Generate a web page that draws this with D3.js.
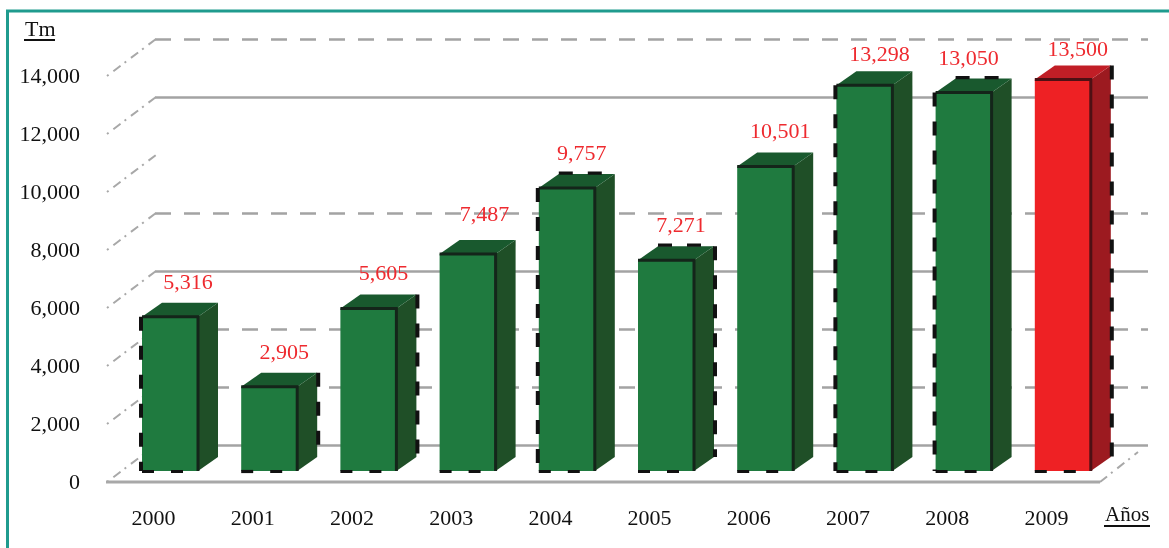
<!DOCTYPE html>
<html>
<head>
<meta charset="utf-8">
<script src="https://d3js.org/d3.v7.min.js"></script>
<style>
    html, body { margin: 0; padding: 0; background: #fff; }
    svg { display: block; filter: blur(0.45px); }
    text { font-family: "Liberation Serif", serif; font-size: 22px; }
</style>
</head>
<body>
<div id="chart"></div>
<script>
const years = ["2000", "2001", "2002", "2003", "2004", "2005", "2006", "2007", "2008", "2009"];
const values = [5316, 2905, 5605, 7487, 9757, 7271, 10501, 13298, 13050, 13500];
const yTicks = [0, 2000, 4000, 6000, 8000, 10000, 12000, 14000];

// which wall lines are solid, dashed or missing in the original
const solidGrid = [0, 6000, 12000];
const dashedGrid = [2000, 4000, 8000, 14000];

const highlightYear = "2009";

// the source image has these edges broken up in dashes
const leftDashed = ["2000", "2004", "2007", "2008"];
const rightDashed = ["2001", "2002", "2005", "2009"];
const topDashed = ["2004", "2005", "2008"];

// hand placed labels in the original
const labelNudge = {"2003": [2, -5], "2007": [0, 4], "2008": [-10, 0], "2009": [0, 4], "2000": [3, 0]};

const width = 1169, height = 548;
const depthX = 20, depthY = 14;
const barOffset = 38, barWidth = 56;

const svg = d3.select("#chart")
    .append("svg")
    .attr("width", width)
    .attr("height", height);

const x = d3.scaleBand()
    .domain(years)
    .range([104, 1096]);

// front of the chart box, the wall is the same scale pushed back
const yFront = d3.scaleLinear()
    .domain([0, 14000])
    .range([482, 76]);

const yBar = d3.scaleLinear()
    .domain([0, 14000])
    .range([471, 65]);

const wallX = 49, wallY = -37;

// teal frame
svg.append("path")
    .attr("d", `M7.5,${height} V11 H${width}`)
    .style("fill", "none")
    .style("stroke", "#1f9b8e")
    .style("stroke-width", 3);

// wall lines
svg.selectAll(".grid")
    .data(solidGrid.concat(dashedGrid))
    .enter()
    .append("line")
    .attr("class", "grid")
    .attr("x1", 106 + wallX)
    .attr("x2", 1099 + wallX)
    .attr("y1", d => yFront(d) + wallY + 0.5)
    .attr("y2", d => yFront(d) + wallY + 0.5)
    .style("stroke", "#a3a3a3")
    .style("stroke-width", 2.4)
    .style("stroke-dasharray", d => dashedGrid.includes(d) ? "16 13" : null);

// slanted bits on the left side
svg.selectAll(".slant")
    .data(yTicks)
    .enter()
    .append("line")
    .attr("class", "slant")
    .attr("x1", 107)
    .attr("x2", 107 + wallX)
    .attr("y1", d => yFront(d))
    .attr("y2", d => yFront(d) + wallY)
    .style("stroke", "#a8a8a8")
    .style("stroke-width", 2)
    .style("stroke-dasharray", "2 6 9 5");

// floor
svg.append("line")
    .attr("x1", 106)
    .attr("x2", 1100)
    .attr("y1", yFront(0))
    .attr("y2", yFront(0))
    .style("stroke", "#a8a8a8")
    .style("stroke-width", 3);

svg.append("line")
    .attr("x1", 1100)
    .attr("x2", 1138)
    .attr("y1", yFront(0))
    .attr("y2", yFront(0) - 30)
    .style("stroke", "#a8a8a8")
    .style("stroke-width", 2)
    .style("stroke-dasharray", "9 5 2 6");

const bars = svg.selectAll(".bar")
    .data(years.map((year, i) => ({year: year, value: values[i]})))
    .enter()
    .append("g")
    .attr("class", "bar");

const left = d => x(d.year) + barOffset;
const right = d => left(d) + barWidth;
const isRed = d => d.year === highlightYear;

// side face
bars.append("path")
    .attr("d", d => `M${right(d)},${yBar(d.value)} l${depthX},${-depthY} V${yBar(0) - depthY} L${right(d)},${yBar(0)} Z`)
    .style("fill", d => isRed(d) ? "#9c1a20" : "#1f4f27");

// top face
bars.append("path")
    .attr("d", d => `M${left(d)},${yBar(d.value)} l${depthX},${-depthY} h${barWidth} l${-depthX},${depthY} Z`)
    .style("fill", d => isRed(d) ? "#c11e26" : "#19592e");

// front face
bars.append("rect")
    .attr("x", left)
    .attr("y", d => yBar(d.value))
    .attr("width", barWidth)
    .attr("height", d => yBar(0) - yBar(d.value))
    .style("fill", d => isRed(d) ? "#ee2124" : "#1f7a3f");

// dark edges of the front face
bars.append("path")
    .attr("d", d => `M${left(d)},${yBar(d.value)} H${right(d)} V${yBar(0)}`)
    .style("fill", "none")
    .style("stroke", d => isRed(d) ? "#4e1014" : "#14251a")
    .style("stroke-width", 3);

// bottom dashes, all bars have them
bars.append("line")
    .attr("x1", left)
    .attr("x2", right)
    .attr("y1", yBar(0) + 0.5)
    .attr("y2", yBar(0) + 0.5)
    .style("stroke", "#111")
    .style("stroke-width", 3.2)
    .style("stroke-dasharray", "12 17");

bars.filter(d => leftDashed.includes(d.year))
    .append("line")
    .attr("x1", d => left(d) - 1)
    .attr("x2", d => left(d) - 1)
    .attr("y1", d => yBar(d.value))
    .attr("y2", yBar(0))
    .style("stroke", "#111")
    .style("stroke-width", 4)
    .style("stroke-dasharray", "14 15");

bars.filter(d => rightDashed.includes(d.year))
    .append("line")
    .attr("x1", d => right(d) + depthX + 1)
    .attr("x2", d => right(d) + depthX + 1)
    .attr("y1", d => yBar(d.value) - depthY)
    .attr("y2", yBar(0) - depthY)
    .style("stroke", "#111")
    .style("stroke-width", 4)
    .style("stroke-dasharray", "14 15");

bars.filter(d => topDashed.includes(d.year))
    .append("line")
    .attr("x1", d => left(d) + depthX)
    .attr("x2", d => right(d) + depthX)
    .attr("y1", d => yBar(d.value) - depthY - 1)
    .attr("y2", d => yBar(d.value) - depthY - 1)
    .style("stroke", "#111")
    .style("stroke-width", 3.2)
    .style("stroke-dasharray", "14 15");

// value labels
bars.append("text")
    .attr("x", d => (left(d) + right(d)) / 2 + 15 + (labelNudge[d.year] ? labelNudge[d.year][0] : 0))
    .attr("y", d => yBar(d.value) - 28 + (labelNudge[d.year] ? labelNudge[d.year][1] : 0))
    .attr("text-anchor", "middle")
    .style("fill", "#ee2a2f")
    .text(d => d3.format(",")(d.value));

// axes, only the labels show
const axisY = svg.append("g")
    .attr("transform", "translate(80,-1)")
    .call(d3.axisLeft(yFront).tickValues(yTicks).tickFormat(d3.format(",")).tickSize(0).tickPadding(0));

axisY.select(".domain").remove();
axisY.selectAll("text")
    .style("font-family", "'Liberation Serif', serif")
    .style("font-size", "22px")
    .style("fill", "#111");

const axisX = svg.append("g")
    .attr("transform", "translate(0,525)")
    .call(d3.axisBottom(x).tickSize(0).tickPadding(0));

axisX.select(".domain").remove();
axisX.selectAll("text")
    .attr("y", 0)
    .attr("dy", 0)
    .style("font-family", "'Liberation Serif', serif")
    .style("font-size", "22px")
    .style("fill", "#111");

// unit titles
svg.append("text")
    .attr("x", 25)
    .attr("y", 36)
    .style("fill", "#111")
    .text("Tm");

svg.append("line")
    .attr("x1", 24)
    .attr("x2", 55)
    .attr("y1", 40)
    .attr("y2", 40)
    .style("stroke", "#111")
    .style("stroke-width", 2);

svg.append("text")
    .attr("x", 1105)
    .attr("y", 521)
    .style("fill", "#111")
    .style("font-size", "21px")
    .text("Años");

svg.append("line")
    .attr("x1", 1104)
    .attr("x2", 1150)
    .attr("y1", 526)
    .attr("y2", 526)
    .style("stroke", "#111")
    .style("stroke-width", 2);
</script>
</body>
</html>
